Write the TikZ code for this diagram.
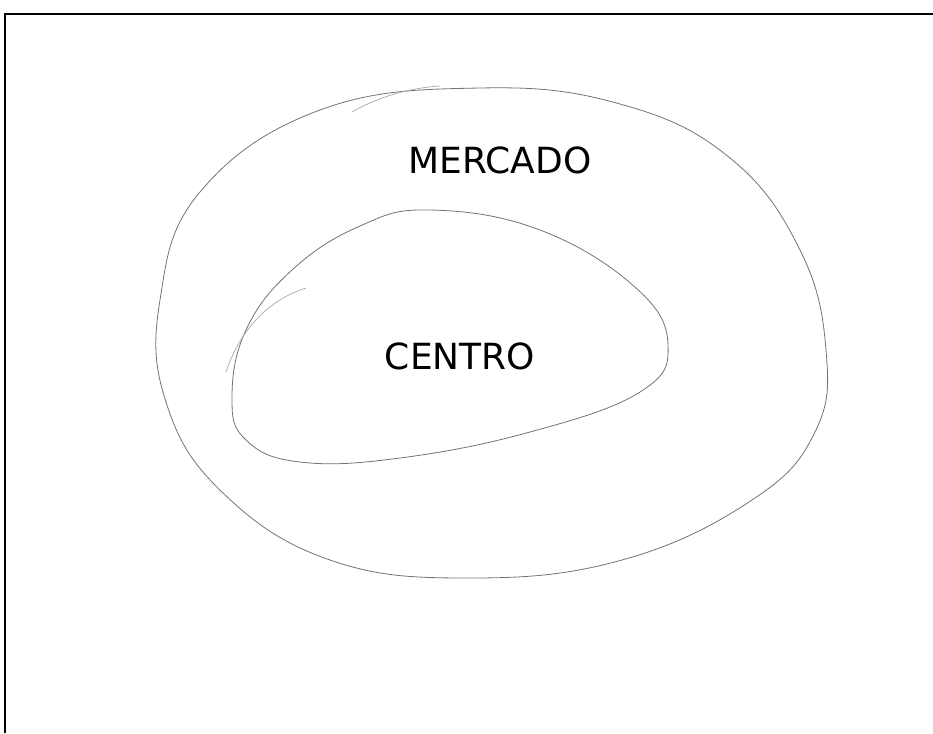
\documentclass[tikz,border=0pt]{standalone}
\usepackage{fontspec}
\setmainfont{DejaVu Sans}
\begin{document}
\begin{tikzpicture}[x=0.75pt,y=-0.75pt,
  sketch/.style={draw=black!55,line width=0.6pt,line join=round},
  faint/.style={draw=black!35,line width=0.5pt},
  frame/.style={draw=black,line width=1.6pt},
  hand/.style={font=\fontsize{27}{27}\selectfont,text=black}]
\useasboundingbox (0,0) rectangle (933,733);
% frame (top, left)
\draw[frame] (5,733) -- (5,14) -- (933,14);
% outer oval
\draw[sketch] plot[smooth cycle,tension=0.7] coordinates {
  (480,88) (620,104) (730,158) (800,250) (826,350) (815,432) (752,500)
  (622,560) (470,578) (330,560) (222,492) (166,402) (160,300) (200,192) (320,110)};
\draw[faint] (352,112) .. controls (380,96) and (410,88) .. (440,86);
% inner oval
\draw[sketch] plot[smooth cycle,tension=0.7] coordinates {
  (430,210) (540,230) (636,288) (668,345) (640,392) (530,432) (400,458)
  (300,462) (246,440) (232,398) (246,330) (292,270) (360,226)};
\draw[faint] (226,372) .. controls (240,330) and (268,300) .. (306,288);
% labels
\node[hand] (mercado) at (500,160) {MERCADO};
\node[hand] (centro) at (460,356) {CENTRO};
\end{tikzpicture}
\end{document}
